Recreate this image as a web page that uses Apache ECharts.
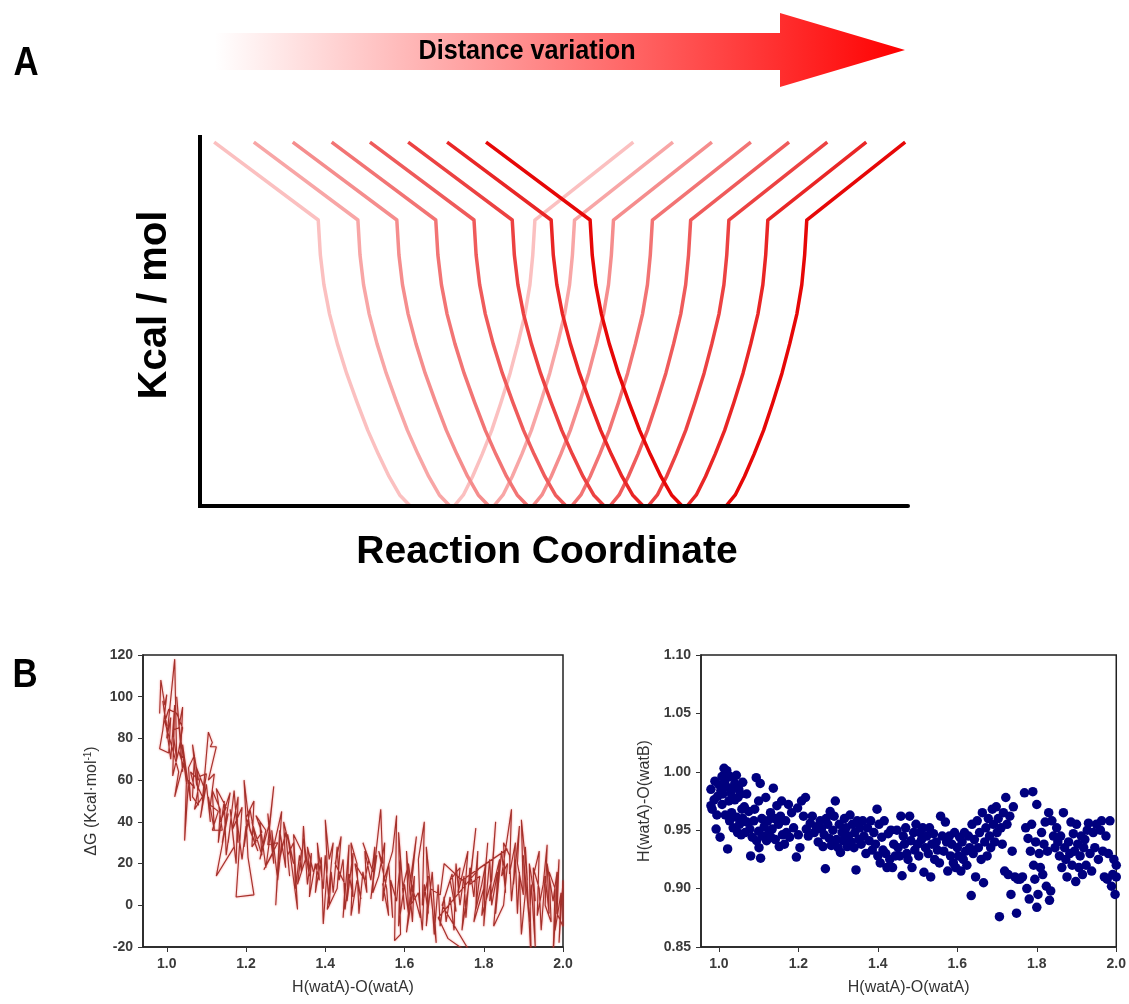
<!DOCTYPE html>
<html><head><meta charset="utf-8">
<script src="https://cdn.jsdelivr.net/npm/echarts@6/dist/echarts.min.js"></script>
<style>html,body{margin:0;padding:0;background:#fff}#c{width:1129px;height:1004px}</style>
</head><body><div id="c"></div><script>
// ---------- Panel A data (schematic potential curves) ----------
const curveShapeX = [2.0, 16.7, 17.0, 17.5, 18.3, 19.4, 20.7, 22.2, 23.7, 25.2, 26.7, 28.2, 29.7, 35.9, 37.2, 38.5, 39.85, 41.2, 42.5, 43.8, 44.9, 45.9, 46.6, 47.0, 47.3, 61.2];
const curveShapeY = [98.6, 77.5, 68, 60, 52, 44, 36, 28, 20.5, 14, 8, 3, 0, 0, 3, 8, 14, 20.5, 28, 36, 44, 52, 60, 68, 77.5, 98.6];
const curveOffsets = [0, 5.6, 11.1, 16.6, 22.0, 27.4, 32.9, 38.4];

// ---------- Panel B left: ΔG trajectory (outbound, then back) ----------
const dgPathOut = [[0.982,92],[0.985,108],[0.995,96],[1.000,101],[0.990,84],[0.982,75],[1.005,73],[1.010,90],[1.000,80],[1.020,118],[1.025,70],[1.015,84],[1.030,85],[1.040,95],[1.035,72],[1.045,70],[1.020,52],[1.030,64],[1.010,78],[0.995,88],[1.005,94],[1.025,92],[1.040,85],[1.030,74],[1.050,62],[1.045,31],[1.055,60],[1.070,56],[1.060,64],[1.080,60],[1.065,77],[1.075,58],[1.090,52],[1.070,46],[1.085,62],[1.100,63],[1.090,50],[1.105,83],[1.115,78],[1.110,76],[1.125,76],[1.105,60],[1.120,63],[1.110,48],[1.130,45],[1.115,36],[1.140,36],[1.125,56],[1.150,47],[1.135,40],[1.160,54],[1.140,30],[1.155,44],[1.125,14],[1.170,28],[1.160,46],[1.175,20],[1.180,52],[1.165,36],[1.190,47],[1.175,4],[1.220,5],[1.205,23],[1.195,60],[1.210,36],[1.230,26],[1.200,42],[1.220,50],[1.215,28],[1.240,35],[1.225,43],[1.250,36],[1.235,22],[1.260,40],[1.270,57],[1.255,29],[1.280,30],[1.245,17],[1.265,24],[1.290,45],[1.275,0],[1.285,36],[1.300,18],[1.295,40],[1.310,28],[1.320,20],[1.305,34],[1.330,-2],[1.320,34],[1.340,26],[1.330,10],[1.350,22],[1.345,32],[1.360,14],[1.355,28],[1.370,16],[1.380,20],[1.375,6],[1.390,23],[1.395,-9],[1.405,18],[1.400,41],[1.410,22],[1.420,30],[1.405,-2],[1.430,8],[1.440,33],[1.425,20],[1.450,10],[1.445,-6],[1.460,29],[1.455,2],[1.470,25],[1.465,-5],[1.480,12],[1.490,3],[1.475,20],[1.500,12],[1.510,22],[1.495,30],[1.520,16],[1.530,24],[1.515,3],[1.540,46],[1.545,20],[1.535,26],[1.555,8],[1.560,-5],[1.545,10],[1.570,26],[1.580,43],[1.575,-17],[1.590,-14],[1.585,35],[1.600,-2],[1.595,8],[1.610,20],[1.620,5],[1.605,-13],[1.630,33],[1.615,12],[1.640,-6],[1.635,22],[1.650,40],[1.645,0],[1.660,14],[1.655,-10],[1.670,16],[1.680,-18],[1.665,8],[1.690,5],[1.700,20],[1.745,12],[1.860,27],[1.790,18],[1.685,-6],[1.710,-16],[1.770,-24],[1.695,0],[1.720,15],[1.730,-3],[1.715,12],[1.740,18],[1.735,6],[1.760,26],[1.745,-12],[1.770,20],[1.780,37],[1.765,10],[1.790,14],[1.775,-8],[1.800,8],[1.810,30],[1.795,-5],[1.820,12],[1.830,40],[1.815,2],[1.840,22],[1.825,-10],[1.850,0],[1.860,20],[1.845,14],[1.870,46],[1.865,15],[1.880,30],[1.875,10],[1.890,38],[1.885,20],[1.900,5],[1.895,41],[1.910,12],[1.905,28],[1.920,-28],[1.915,20],[1.930,2],[1.925,14],[1.940,26],[1.935,-5],[1.950,10],[1.960,29],[1.955,0],[1.970,-8],[1.965,16],[1.980,8],[1.975,-24],[1.990,22],[1.985,-4],[2.000,-10]];
const dgPathBack = [[1.000,86],[0.990,98],[1.010,70],[1.020,96],[1.015,62],[1.035,78],[1.025,100],[1.040,64],[1.030,88],[1.050,58],[1.040,77],[1.060,50],[1.055,66],[1.070,72],[1.065,52],[1.080,48],[1.075,66],[1.095,56],[1.085,42],[1.100,58],[1.110,40],[1.105,52],[1.120,36],[1.115,55],[1.135,46],[1.130,30],[1.145,50],[1.150,24],[1.160,38],[1.155,30],[1.170,55],[1.180,30],[1.175,44],[1.190,22],[1.200,38],[1.195,28],[1.210,46],[1.225,30],[1.215,40],[1.240,24],[1.235,40],[1.250,18],[1.260,32],[1.255,44],[1.270,20],[1.265,36],[1.280,12],[1.290,30],[1.285,22],[1.300,35],[1.310,14],[1.305,24],[1.320,30],[1.325,8],[1.335,24],[1.340,16],[1.345,38],[1.355,10],[1.365,25],[1.360,4],[1.375,20],[1.385,12],[1.380,30],[1.395,8],[1.400,24],[1.410,0],[1.415,16],[1.420,6],[1.430,28],[1.435,12],[1.445,22],[1.450,-2],[1.460,15],[1.470,4],[1.465,30],[1.480,20],[1.485,-4],[1.495,16],[1.505,6],[1.500,26],[1.515,12],[1.525,28],[1.520,6],[1.535,14],[1.550,30],[1.545,2],[1.560,20],[1.570,-6],[1.565,12],[1.580,2],[1.590,22],[1.585,-10],[1.600,10],[1.610,-4],[1.605,26],[1.620,-8],[1.625,14],[1.615,0],[1.635,6],[1.645,-12],[1.650,10],[1.660,-4],[1.655,28],[1.670,0],[1.675,-14],[1.685,10],[1.690,-10],[1.700,4],[1.705,-8],[1.715,4],[1.725,-12],[1.730,20],[1.740,0],[1.750,14],[1.755,-6],[1.765,18],[1.775,4],[1.785,26],[1.780,-2],[1.795,10],[1.805,20],[1.800,-10],[1.815,22],[1.820,0],[1.835,16],[1.830,-4],[1.845,26],[1.855,6],[1.850,30],[1.865,24],[1.870,2],[1.880,22],[1.885,-4],[1.890,16],[1.895,-14],[1.905,6],[1.900,24],[1.915,-8],[1.920,10],[1.930,-20],[1.925,18],[1.940,8],[1.945,-12],[1.955,14],[1.965,-4],[1.960,20],[1.975,2],[1.985,16],[1.980,-12],[1.995,6],[1.990,-18],[2.000,12]];

// ---------- Panel B right: H(watA)-O(watB) vs H(watA)-O(watA) ----------
const hoPoints = [[0.980,0.985],[0.980,0.971],[0.983,0.968],[0.988,0.976],[0.990,0.992],[0.993,0.951],[0.995,0.963],[0.997,0.979],[1.000,0.989],[1.003,0.944],[1.005,0.984],[1.008,0.996],[1.008,0.972],[1.010,0.981],[1.013,1.003],[1.015,0.992],[1.016,0.963],[1.020,1.001],[1.020,0.987],[1.022,0.934],[1.025,0.975],[1.027,0.958],[1.028,0.996],[1.030,0.982],[1.032,0.965],[1.035,0.986],[1.036,0.952],[1.040,0.990],[1.040,0.976],[1.044,0.997],[1.045,0.961],[1.047,0.948],[1.048,0.978],[1.050,0.985],[1.052,0.955],[1.055,0.981],[1.056,0.946],[1.058,0.968],[1.060,0.991],[1.060,0.960],[1.064,0.970],[1.066,0.948],[1.070,0.981],[1.071,0.957],[1.075,0.966],[1.078,0.951],[1.080,0.928],[1.084,0.944],[1.088,0.958],[1.090,0.968],[1.094,0.995],[1.095,0.941],[1.100,0.975],[1.100,0.949],[1.101,0.935],[1.104,0.990],[1.105,0.926],[1.108,0.960],[1.110,0.945],[1.114,0.953],[1.118,0.978],[1.120,0.941],[1.123,0.958],[1.126,0.948],[1.130,0.965],[1.131,0.944],[1.134,0.951],[1.137,0.986],[1.140,0.960],[1.142,0.942],[1.146,0.971],[1.150,0.955],[1.152,0.936],[1.155,0.962],[1.158,0.975],[1.160,0.946],[1.165,0.938],[1.168,0.958],[1.170,0.948],[1.175,0.972],[1.178,0.944],[1.183,0.965],[1.188,0.952],[1.195,0.927],[1.198,0.969],[1.200,0.946],[1.204,0.935],[1.208,0.975],[1.213,0.962],[1.218,0.978],[1.220,0.951],
[1.225,0.945],[1.230,0.956],[1.235,0.962],[1.240,0.948],[1.245,0.953],[1.250,0.940],[1.255,0.958],[1.258,0.951],[1.262,0.936],[1.265,0.946],[1.268,0.917],[1.270,0.960],[1.274,0.955],[1.278,0.943],[1.280,0.966],[1.283,0.937],[1.287,0.950],[1.290,0.962],[1.293,0.975],[1.296,0.942],[1.300,0.935],[1.303,0.955],[1.306,0.931],[1.310,0.948],[1.313,0.941],[1.316,0.960],[1.320,0.952],[1.323,0.936],[1.326,0.945],[1.330,0.963],[1.333,0.940],[1.336,0.955],[1.340,0.935],[1.342,0.948],[1.345,0.916],[1.348,0.958],[1.352,0.942],[1.355,0.952],[1.358,0.938],[1.362,0.958],[1.365,0.945],[1.370,0.930],[1.374,0.952],[1.378,0.941],[1.382,0.958],[1.386,0.933],[1.390,0.948],[1.394,0.938],[1.398,0.968],[1.400,0.928],
[1.403,0.955],[1.406,0.922],[1.410,0.944],[1.413,0.933],[1.416,0.958],[1.420,0.930],[1.423,0.918],[1.426,0.947],[1.430,0.925],[1.433,0.950],[1.437,0.918],[1.440,0.938],[1.444,0.928],[1.448,0.950],[1.451,0.935],[1.455,0.928],[1.458,0.962],[1.461,0.911],[1.464,0.945],[1.467,0.938],[1.470,0.952],[1.473,0.930],[1.476,0.925],[1.480,0.962],[1.483,0.941],[1.486,0.918],[1.490,0.948],[1.493,0.933],[1.496,0.955],[1.500,0.938],[1.503,0.928],[1.506,0.948],[1.510,0.942],[1.513,0.952],[1.516,0.914],[1.520,0.935],[1.523,0.945],[1.527,0.930],[1.530,0.952],[1.533,0.910],[1.536,0.938],[1.540,0.947],[1.543,0.925],[1.547,0.940],[1.550,0.933],[1.555,0.922],[1.558,0.962],
[1.562,0.945],[1.566,0.932],[1.570,0.957],[1.573,0.940],[1.576,0.915],[1.580,0.945],[1.583,0.928],[1.586,0.938],[1.590,0.922],[1.593,0.948],[1.596,0.918],[1.600,0.935],[1.603,0.928],[1.606,0.944],[1.609,0.915],[1.612,0.940],[1.615,0.925],[1.618,0.948],[1.621,0.932],[1.624,0.920],[1.628,0.945],[1.631,0.935],[1.635,0.894],[1.637,0.955],[1.640,0.930],[1.643,0.942],[1.646,0.910],[1.650,0.958],[1.653,0.935],[1.656,0.948],[1.660,0.925],[1.663,0.965],[1.666,0.905],[1.669,0.940],[1.672,0.952],[1.675,0.928],[1.678,0.960],[1.681,0.945],[1.684,0.935],[1.688,0.968],[1.691,0.955],[1.694,0.940],[1.698,0.970],[1.700,0.948],
[1.703,0.960],[1.706,0.876],[1.710,0.952],[1.713,0.938],[1.716,0.965],[1.719,0.915],[1.722,0.978],[1.725,0.955],[1.728,0.912],[1.732,0.962],[1.735,0.895],[1.738,0.932],[1.741,0.970],[1.745,0.910],[1.749,0.879],[1.752,0.908],[1.758,0.908],[1.764,0.910],[1.769,0.982],[1.772,0.952],[1.775,0.900],[1.778,0.943],[1.781,0.891],[1.784,0.932],[1.787,0.955],[1.790,0.983],[1.792,0.920],[1.795,0.908],[1.797,0.940],[1.800,0.972],[1.800,0.884],[1.803,0.895],[1.806,0.930],[1.809,0.918],[1.812,0.948],[1.815,0.912],[1.818,0.938],[1.821,0.957],[1.824,0.902],[1.827,0.932],[1.830,0.965],[1.832,0.890],[1.835,0.898],[1.838,0.958],[1.842,0.945],[1.846,0.935],[1.850,0.952],
[1.853,0.940],[1.857,0.928],[1.860,0.945],[1.863,0.918],[1.867,0.965],[1.870,0.935],[1.873,0.925],[1.876,0.910],[1.880,0.940],[1.883,0.930],[1.886,0.957],[1.889,0.920],[1.892,0.947],[1.895,0.932],[1.898,0.906],[1.900,0.955],[1.903,0.938],[1.906,0.918],[1.909,0.928],[1.912,0.945],[1.915,0.912],[1.918,0.935],[1.921,0.942],[1.924,0.920],[1.927,0.950],[1.930,0.956],[1.934,0.930],[1.938,0.915],[1.942,0.948],[1.946,0.935],[1.950,0.955],[1.955,0.925],[1.960,0.950],[1.963,0.958],[1.966,0.932],[1.970,0.910],[1.974,0.945],[1.977,0.908],[1.980,0.930],[1.984,0.958],[1.988,0.902],[1.991,0.912],[1.994,0.925],[1.997,0.895],[2.000,0.920],[2.000,0.910]];

const xTickValues = [1.0, 1.2, 1.4, 1.6, 1.8, 2.0];

// ---------- styles ----------
const curveColors = ['#fbc0c0','#f8a6a6','#f58d8d','#f27474','#ef5b5b','#ec4242','#e92626','#e60707'];
const FONT = '"Liberation Sans", Arial, sans-serif';

const chart = echarts.init(document.getElementById('c'), null, {renderer: 'canvas'});

const tickLabelStyle = {fontFamily: FONT, fontSize: 14, fontWeight: 'bold', color: '#3a3a3a'};
const nameStyle = {fontFamily: FONT, fontSize: 16, color: '#333'};

function bXAxis(gridIndex, min) {
  return {
    gridIndex, type: 'value', min, max: 2.0,
    axisLine: {show: true, onZero: false, lineStyle: {color: '#222', width: 1.5}},
    axisTick: {show: true, length: 5, customValues: xTickValues, lineStyle: {color: '#333'}},
    axisLabel: Object.assign({margin: 10, customValues: xTickValues, formatter: v => v.toFixed(1)}, tickLabelStyle),
    splitLine: {show: false},
    name: 'H(watA)-O(watA)', nameLocation: 'middle', nameGap: 33, nameTextStyle: nameStyle
  };
}

const curveSeries = curveOffsets.map((off, i) => ({
  type: 'line', xAxisIndex: 0, yAxisIndex: 0, silent: true,
  data: curveShapeX.map((x, j) => [x + off, curveShapeY[j]]),
  symbol: 'none', clip: false,
  lineStyle: {color: curveColors[i], width: 3.5, join: 'round'}
}));

const dgPath = dgPathOut.concat(dgPathBack.slice().reverse());

const option = {
  animation: false,
  backgroundColor: '#fff',
  grid: [
    {left: 200, top: 137, width: 708, height: 369},
    {left: 143, top: 655, width: 420, height: 292, show: true, borderColor: '#222', borderWidth: 1.5},
    {left: 701, top: 655, width: 417, height: 292, show: true, borderColor: '#222', borderWidth: 1.5}
  ],
  xAxis: [
    {gridIndex: 0, type: 'value', min: 0, max: 100, z: 10,
     axisLine: {show: true, onZero: false, lineStyle: {color: '#000', width: 4}},
     axisTick: {show: false}, axisLabel: {show: false}, splitLine: {show: false}},
    bXAxis(1, 0.94),
    bXAxis(2, 0.955)
  ],
  yAxis: [
    {gridIndex: 0, type: 'value', min: 0, max: 100, z: 10,
     axisLine: {show: true, onZero: false, lineStyle: {color: '#000', width: 4, cap: 'square'}},
     axisTick: {show: false}, axisLabel: {show: false}, splitLine: {show: false}},
    {gridIndex: 1, type: 'value', min: -20, max: 120, interval: 20,
     axisLine: {show: true, onZero: false, lineStyle: {color: '#222', width: 1.5}},
     axisTick: {show: true, length: 5, lineStyle: {color: '#333'}},
     axisLabel: Object.assign({margin: 10}, tickLabelStyle),
     splitLine: {show: false},
     name: 'ΔG (Kcal·mol{sup|-1})', nameLocation: 'middle', nameGap: 42, nameRotate: 90,
     nameTextStyle: Object.assign({rich: {sup: {fontFamily: FONT, fontSize: 10, color: '#333', verticalAlign: 'top', padding: [0, 0, 8, 0]}}}, nameStyle)},
    {gridIndex: 2, type: 'value', min: 0.85, max: 1.10, interval: 0.05,
     axisLine: {show: true, onZero: false, lineStyle: {color: '#222', width: 1.5}},
     axisTick: {show: true, length: 5, lineStyle: {color: '#333'}},
     axisLabel: Object.assign({margin: 10, formatter: v => v.toFixed(2)}, tickLabelStyle),
     splitLine: {show: false},
     name: 'H(watA)-O(watB)', nameLocation: 'middle', nameGap: 48, nameRotate: 90, nameTextStyle: nameStyle}
  ],
  series: curveSeries.concat([
    {type: 'line', xAxisIndex: 1, yAxisIndex: 1, data: dgPath, symbol: 'none', silent: true,
     lineStyle: {color: '#a3302a', width: 1.1, shadowColor: 'rgba(235,30,30,0.6)', shadowBlur: 2}},
    {type: 'scatter', xAxisIndex: 2, yAxisIndex: 2, data: hoPoints, symbolSize: 9.5, silent: true,
     itemStyle: {color: '#00007f', opacity: 1}}
  ]),
  graphic: [
    {type: 'polygon', silent: true,
     shape: {points: [[215,33],[780,33],[780,13],[905,50],[780,87],[780,70],[215,70]]},
     style: {fill: new echarts.graphic.LinearGradient(0, 0, 1, 0, [{offset: 0, color: '#ffffff'}, {offset: 1, color: '#ff0000'}])}},
    {type: 'text', x: 527, y: 51, scaleX: 0.9, silent: true,
     style: {text: 'Distance variation', fontFamily: FONT, fontSize: 28, fontWeight: 'bold', fill: '#000', align: 'center', verticalAlign: 'middle'}},
    {type: 'text', x: 26, y: 64, scaleX: 0.85, silent: true,
     style: {text: 'A', fontFamily: FONT, fontSize: 41, fontWeight: 'bold', fill: '#000', align: 'center', verticalAlign: 'middle'}},
    {type: 'text', x: 25, y: 676, scaleX: 0.85, silent: true,
     style: {text: 'B', fontFamily: FONT, fontSize: 41, fontWeight: 'bold', fill: '#000', align: 'center', verticalAlign: 'middle'}},
    {type: 'text', x: 155, y: 305, rotation: Math.PI / 2, silent: true,
     style: {text: 'Kcal / mol', fontFamily: FONT, fontSize: 40, fontWeight: 'bold', fill: '#000', align: 'center', verticalAlign: 'middle'}},
    {type: 'text', x: 547, y: 552, silent: true,
     style: {text: 'Reaction Coordinate', fontFamily: FONT, fontSize: 39, fontWeight: 'bold', fill: '#000', align: 'center', verticalAlign: 'middle'}}
  ]
};
chart.setOption(option);
</script></body></html>
